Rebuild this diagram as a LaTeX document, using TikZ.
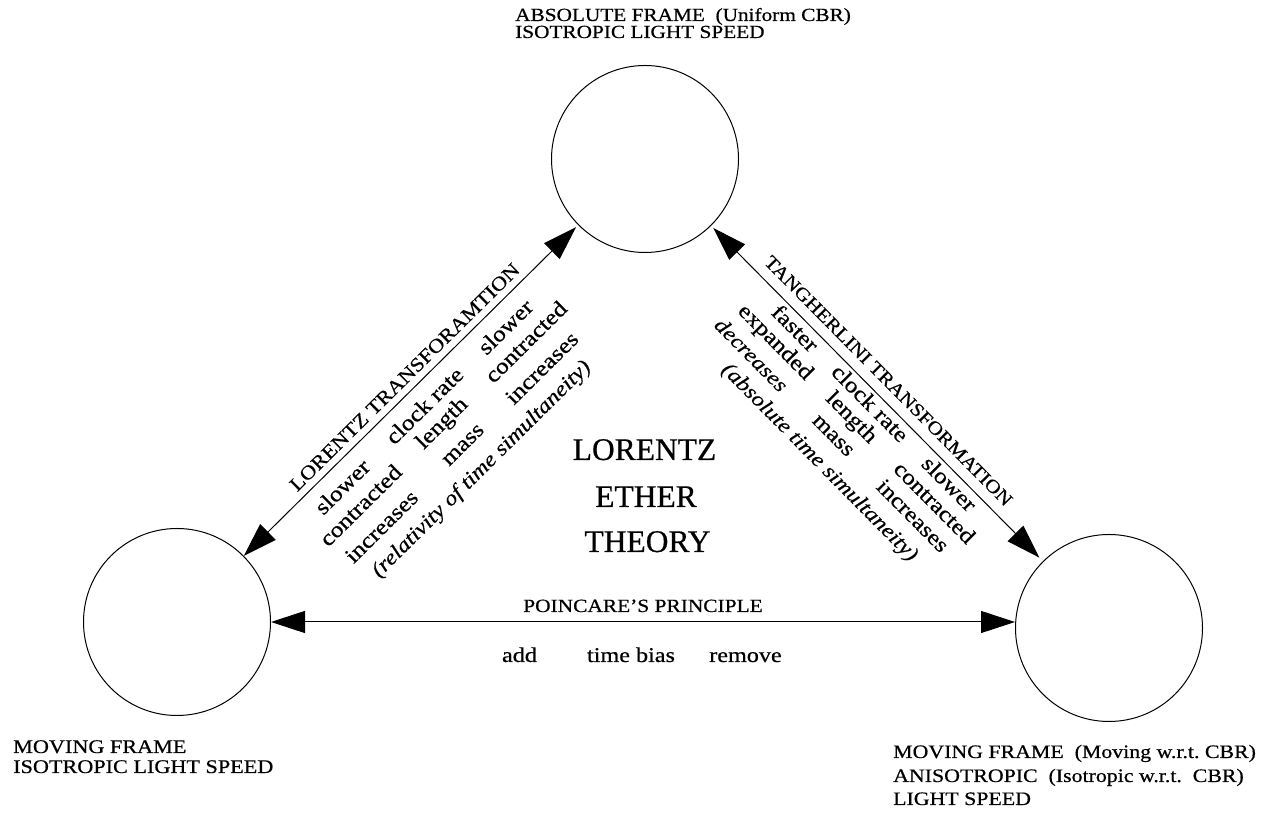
\documentclass[tikz,border=0pt]{standalone}
\usepackage{fontspec}
\setmainfont[FakeBold=0.6]{Liberation Serif}
\newfontfamily\lbl[FakeStretch=1.15,FakeBold=0.6]{Liberation Serif}
\usetikzlibrary{arrows.meta}
\begin{document}
\frenchspacing
\begin{tikzpicture}[x=1pt,y=1pt,
  >={Triangle[length=34pt,width=22pt]},
  frame/.style={circle,draw,line width=1pt,minimum size=187pt,inner sep=0pt},
  link/.style={line width=1pt,<->},
  cap/.style={inner sep=0pt,anchor=base west,font=\lbl\fontsize{#1}{#1}\selectfont},
  ctext/.style={inner sep=0pt,anchor=base,font=\lbl\fontsize{#1}{#1}\selectfont},
  title/.style={inner sep=0pt,anchor=base,font=\fontsize{31.5}{31.5}\selectfont},
  diag/.style={inner sep=0pt,font=\lbl\fontsize{#1}{#1}\selectfont},
  word/.style={inner sep=0pt,font=\lbl\fontsize{22}{22}\selectfont},
  iword/.style={inner sep=0pt,font=\lbl\itshape\fontsize{21}{21}\selectfont}]
\fill[white] (0,0) rectangle (1271,818);
\useasboundingbox (0,0) rectangle (1271,818);

% frames
\node[frame] (T) at (645,659) {};
\node[frame] (L) at (177,196) {};
\node[frame] (R) at (1109,190) {};

% connectors
\draw[link, shorten >=3pt] (L) -- (T);
\draw[link, shorten <=3pt, shorten >=5pt] (T) -- (R);
\draw[link] (L.east) -- (L.east -| R.west);

% frame labels
\node[cap=18.5] (t1) at (515,797) {ABSOLUTE FRAME\ \ (Uniform CBR)};
\node[cap=18.5] (t2) at (515,780) {ISOTROPIC LIGHT SPEED};
\node[cap=19.3] (l1) at (13,65) {MOVING FRAME};
\node[cap=19.3] (l2) at (13,45) {ISOTROPIC LIGHT SPEED};
\node[cap=19] (r1) at (893,60) {MOVING FRAME\ \ (Moving w.r.t. CBR)};
\node[cap=19] (r2) at (893,36) {ANISOTROPIC\ \ (Isotropic w.r.t.\ \ CBR)};
\node[cap=19] (r3) at (893,13) {LIGHT SPEED};

% centre title
\node[title] (m1) at (644.5,358) {LORENTZ};
\node[title] (m2) at (646,311) {ETHER};
\node[title] (m3) at (647.5,266) {THEORY};

% Poincare
\node[ctext=18.6] (p1) at (643,206) {POINCARE’S PRINCIPLE};
\node[ctext=21] (p2) at (519.5,156) {add};
\node[ctext=21] (p3) at (631,156) {time bias};
\node[ctext=21] (p4) at (745.5,156) {remove};

% Lorentz side
\begin{scope}[shift={(L)},rotate=44.69,transform shape]
\node[diag=19.5] (lt) at (334,14) {LORENTZ TRANSFORAMTION};
\node[word] (la1) at (212.5,-20) {slower};
\node[word] (la2) at (212.5,-46) {contracted};
\node[word] (la3) at (212.5,-76) {increases};
\node[iword] (la4) at (324,-106) {(relativity of time simultaneity)};
\node[word] (lb1) at (328,-20) {clock rate};
\node[word] (lb2) at (328,-46) {length};
\node[word] (lb3) at (328,-76) {mass};
\node[word] (lc1) at (441,-21) {slower};
\node[word] (lc2) at (445,-46) {contracted};
\node[word] (lc3) at (438,-76) {increases};
\end{scope}

% Tangherlini side
\begin{scope}[shift={(T)},rotate=-45.3,transform shape]
\node[diag=18.6] (tt) at (329,17) {TANGHERLINI TRANSFORMATION};
\node[word] (ta1) at (226,-12) {faster};
\node[word] (ta2) at (222,-37) {expanded};
\node[iword] (ta3) at (214,-62) {decreases};
\node[iword] (ta4) at (338.5,-90) {(absolute time simultaneity)};
\node[word] (tb1) at (332,-11.5) {clock rate};
\node[word] (tb2) at (329,-36) {length};
\node[word] (tb3) at (329,-61.5) {mass};
\node[word] (tc1) at (445,-12) {slower};
\node[word] (tc2) at (448,-35.5) {contracted};
\node[word] (tc3) at (442,-60.5) {increases};
\end{scope}
\end{tikzpicture}
\end{document}
